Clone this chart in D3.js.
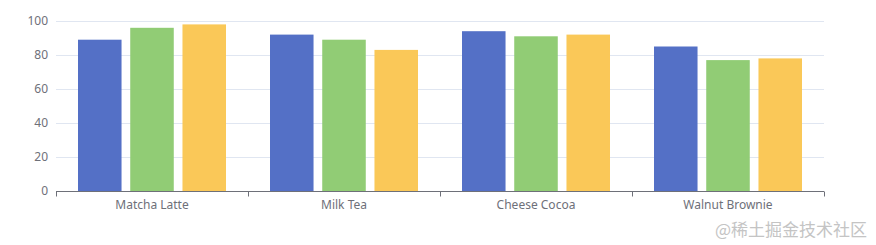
<!DOCTYPE html>
<html>
<head>
<meta charset="utf-8">
<script src="https://cdn.jsdelivr.net/npm/d3@7"></script>
<style>
    body { margin: 0; background: #fff; }
    #chart text { font-family: "Noto Sans", "DejaVu Sans", sans-serif; }
</style>
</head>
<body>
<div id="chart"></div>
<script>
    let categories = ["Matcha Latte", "Milk Tea", "Cheese Cocoa", "Walnut Brownie"];
    let seriesNames = ["2015", "2016", "2017"];
    let series2015 = [89, 92, 94, 85];
    let series2016 = [96, 89, 91, 77];
    let series2017 = [98, 83, 92, 78];
    let yTicks = [0, 20, 40, 60, 80, 100];

    let colors = ["#5470c6", "#91cc75", "#fac858"];
    let seriesValues = [series2015, series2016, series2017];

    let width = 876, height = 245;
    let margin = { top: 21, right: 52, bottom: 54, left: 56 };

    let svg = d3.select("#chart")
        .append("svg")
        .attr("width", width)
        .attr("height", height);

    let x0 = d3.scaleBand()
        .domain(categories)
        .range([margin.left, width - margin.right]);

    // bars span 148 of the 192px category, gap between bars = 20% of bar width
    let inner = x0.bandwidth() * 148 / 192;
    let x1 = d3.scaleBand()
        .domain(seriesNames)
        .range([(x0.bandwidth() - inner) / 2, (x0.bandwidth() + inner) / 2])
        .paddingInner(1 / 6);

    let y = d3.scaleLinear()
        .domain([0, 100])
        .range([height - margin.bottom, margin.top]);

    // horizontal grid
    svg.append("g")
        .selectAll("line")
        .data(yTicks.slice(1))
        .join("line")
        .attr("x1", margin.left)
        .attr("x2", width - margin.right)
        .attr("y1", d => y(d) + 0.5)
        .attr("y2", d => y(d) + 0.5)
        .attr("stroke", "#E0E6F1");

    // y axis labels
    svg.append("g")
        .selectAll("text")
        .data(yTicks)
        .join("text")
        .attr("x", margin.left - 8)
        .attr("y", d => y(d))
        .attr("dy", "0.35em")
        .attr("text-anchor", "end")
        .attr("fill", "#6E7079")
        .style("font-size", "12px")
        .text(d => d);

    // bars
    let groups = svg.append("g")
        .selectAll("g")
        .data(categories)
        .join("g")
        .attr("transform", d => `translate(${x0(d)},0)`);

    groups.selectAll("rect")
        .data((d, i) => seriesNames.map((s, k) => ({ s: s, v: seriesValues[k][i], c: colors[k] })))
        .join("rect")
        .attr("x", d => x1(d.s))
        .attr("y", d => y(d.v))
        .attr("width", x1.bandwidth())
        .attr("height", d => y(0) - y(d.v))
        .attr("fill", d => d.c);

    // x axis
    let xAxis = svg.append("g")
        .attr("transform", `translate(0, ${y(0) + 0.5})`)
        .call(d3.axisBottom(x0).tickSize(0).tickPadding(9));
    xAxis.select(".domain").attr("stroke", "#6E7079").attr("d", `M${margin.left},0H${width - margin.right}`);
    xAxis.selectAll("text").attr("fill", "#6E7079").style("font-size", "12px");

    let boundaries = d3.range(categories.length + 1).map(i => margin.left + i * x0.step());
    xAxis.selectAll(".bound")
        .data(boundaries)
        .join("line")
        .attr("class", "bound")
        .attr("x1", d => Math.round(d) + 0.5)
        .attr("x2", d => Math.round(d) + 0.5)
        .attr("y1", 0)
        .attr("y2", 5)
        .attr("stroke", "#6E7079");

    // watermark
    svg.append("text")
        .attr("x", 867)
        .attr("y", 236)
        .attr("text-anchor", "end")
        .attr("fill", "#c4c4c4")
        .style("font-family", "'Noto Sans CJK SC', sans-serif")
        .style("font-size", "17px")
        .text("@稀土掘金技术社区");
</script>
</body>
</html>
